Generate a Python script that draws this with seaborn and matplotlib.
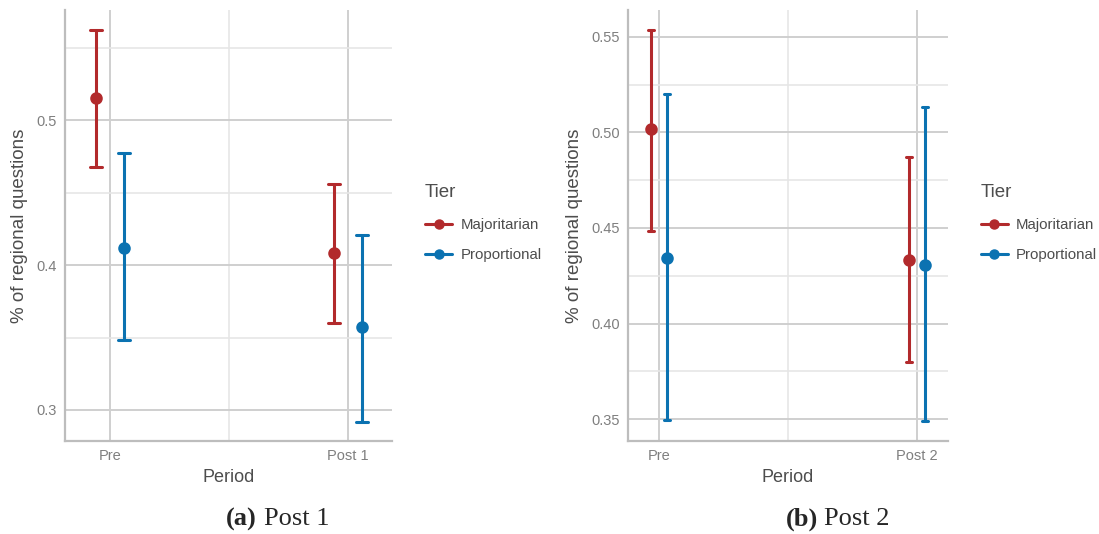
import pandas as pd
import numpy as np
import matplotlib.pyplot as plt
import seaborn as sns
from matplotlib.lines import Line2D
from matplotlib.ticker import MultipleLocator

# Values
tiers = ["Majoritarian", "Proportional"]
tier_colors = ["#B22A2C", "#0B72B1"]

# Panel (a): Pre vs Post 1
periods_a = ["Pre", "Post 1"]
est_a = {"Majoritarian": [0.515, 0.408], "Proportional": [0.412, 0.357]}
lo_a = {"Majoritarian": [0.468, 0.360], "Proportional": [0.348, 0.292]}
hi_a = {"Majoritarian": [0.562, 0.456], "Proportional": [0.477, 0.421]}

# Panel (b): Pre vs Post 2
periods_b = ["Pre", "Post 2"]
est_b = {"Majoritarian": [0.5016, 0.4333], "Proportional": [0.4343, 0.4307]}
lo_b = {"Majoritarian": [0.4484, 0.3797], "Proportional": [0.3495, 0.3490]}
hi_b = {"Majoritarian": [0.5537, 0.4874], "Proportional": [0.5199, 0.5134]}


def long_frame(periods, est, lo, hi):
    # three rows per group: lower bound, estimate, upper bound
    rows = []
    for t in tiers:
        for i, p in enumerate(periods):
            for v in (lo[t][i], est[t][i], hi[t][i]):
                rows.append({"Period": p, "Tier": t, "value": v})
    return pd.DataFrame(rows)


df_a = long_frame(periods_a, est_a, lo_a, hi_a)
df_b = long_frame(periods_b, est_b, lo_b, hi_b)

sns.set_style("white")
plt.rcParams["font.family"] = ["Liberation Sans", "DejaVu Sans"]

fig = plt.figure(figsize=(10.99, 5.34), dpi=100)
ax_a = fig.add_axes([65 / 1099, 1 - 441 / 534, 327 / 1099, 431 / 534])
ax_b = fig.add_axes([628 / 1099, 1 - 441 / 534, 320 / 1099, 431 / 534])


def draw_panel(ax, df, periods, dodge, capsize, ylim, xlim, major, minor, fmt):
    sns.pointplot(data=df, x="Period", y="value", hue="Tier", order=periods,
                  hue_order=tiers, palette=tier_colors, estimator="median",
                  errorbar=lambda v: (v.min(), v.max()), dodge=dodge,
                  capsize=capsize, linestyle="none", markersize=7,
                  err_kws={"linewidth": 2.2}, legend=False, ax=ax)
    ax.set_ylim(*ylim)
    ax.set_xlim(*xlim)
    ax.yaxis.set_major_locator(MultipleLocator(major))
    ax.yaxis.set_minor_locator(MultipleLocator(minor))
    ax.xaxis.set_minor_locator(MultipleLocator(0.5))
    ax.yaxis.set_major_formatter(plt.FormatStrFormatter(fmt))
    ax.grid(which="major", color="#cfcfcf", linewidth=1.4)
    ax.grid(which="minor", color="#e6e6e6", linewidth=1.2)
    ax.set_axisbelow(True)
    for s in ["top", "right"]:
        ax.spines[s].set_visible(False)
    for s in ["left", "bottom"]:
        ax.spines[s].set_color("#bdbdbd")
        ax.spines[s].set_linewidth(1.6)
    ax.tick_params(which="both", length=0, labelsize=10.5, labelcolor="#7f7f7f", pad=6)
    ax.set_xlabel("Period", fontsize=13, color="#4d4d4d", labelpad=4)
    ax.set_ylabel("% of regional questions", fontsize=13.5, color="#4d4d4d", labelpad=6)

    handles = [Line2D([0], [0], color=c, marker="o", markersize=6.5, linewidth=2.2)
               for c in tier_colors]
    leg = ax.legend(handles, tiers, title="Tier", loc="center left",
                    bbox_to_anchor=(1.06, 0.505), frameon=False, fontsize=10.8,
                    title_fontsize=13.5, handlelength=1.8, handletextpad=0.55,
                    labelspacing=1.1, alignment="left")
    for txt in leg.get_texts():
        txt.set_color("#4d4d4d")
    leg.get_title().set_color("#4d4d4d")


draw_panel(ax_a, df_a, periods_a, 0.12, 0.05, (0.2786, 0.576), (-0.189, 1.185),
           0.1, 0.05, "%.1f")
draw_panel(ax_b, df_b, periods_b, 0.062, 0.022, (0.3385, 0.5641), (-0.12, 1.12),
           0.05, 0.025, "%.2f")

# Sub-figure captions
cap_kw = dict(fontsize=19, family=["Liberation Serif", "DejaVu Serif"], va="center")
fig.text(257 / 1099, 1 - 519 / 534, "(a)", ha="right", fontweight="bold", **cap_kw)
fig.text(264 / 1099, 1 - 519 / 534, "Post 1", ha="left", **cap_kw)
fig.text(818 / 1099, 1 - 519 / 534, "(b)", ha="right", fontweight="bold", **cap_kw)
fig.text(824 / 1099, 1 - 519 / 534, "Post 2", ha="left", **cap_kw)

plt.savefig("out.png", dpi=100)
